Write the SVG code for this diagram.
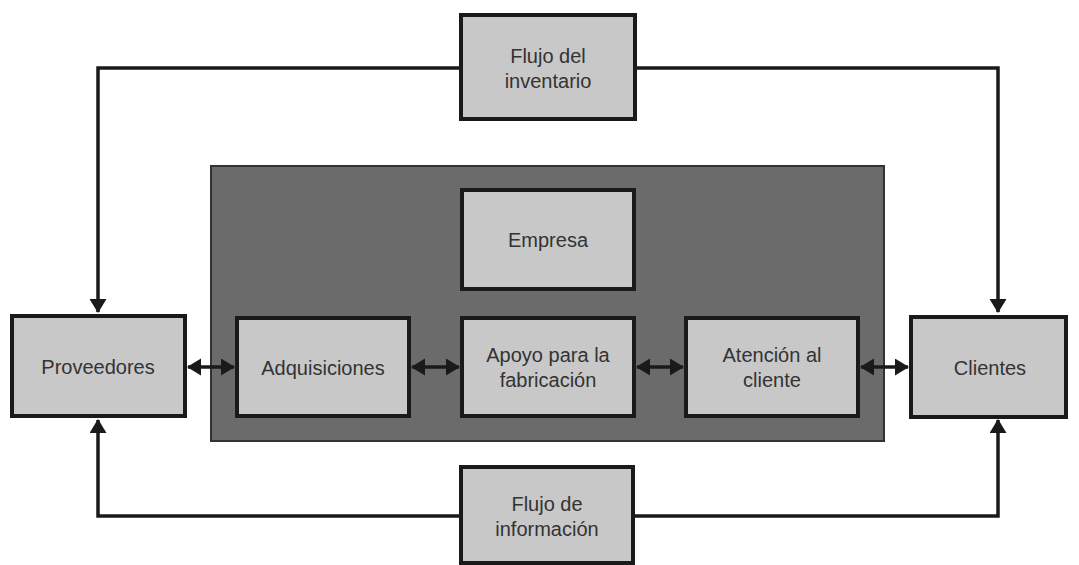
<svg xmlns="http://www.w3.org/2000/svg" width="1079" height="565" viewBox="0 0 1079 565">
<style>
.box{fill:#c8c8c8;stroke:#1a1a1a;stroke-width:4}
.lbl{font-family:"Liberation Sans",Arial,sans-serif;font-size:20px;fill:#333;text-anchor:middle}
.conn{fill:none;stroke:#1a1a1a;stroke-width:3.5}
</style>
<defs>
<marker id="ah" markerUnits="userSpaceOnUse" markerWidth="16" markerHeight="18" refX="13" refY="8.5" orient="auto-start-reverse">
<path d="M0,0 L14,8.5 L0,17 Z" fill="#1a1a1a"/>
</marker>
</defs>
<rect width="1079" height="565" fill="#fff"/>
<g id="empresa-frame">
<rect x="211" y="166" width="673" height="275" fill="#6b6b6b" stroke="#333" stroke-width="2"/>
</g>
<g id="connectors">
<path class="conn" d="M461,68 H98 V312" marker-end="url(#ah)"/>
<path class="conn" d="M635,68 H998 V312" marker-end="url(#ah)"/>
<path class="conn" d="M461,516 H98 V420" marker-end="url(#ah)"/>
<path class="conn" d="M633,516 H998 V420" marker-end="url(#ah)"/>
<path class="conn" d="M188,367 H234" marker-start="url(#ah)" marker-end="url(#ah)"/>
<path class="conn" d="M412,367 H459" marker-start="url(#ah)" marker-end="url(#ah)"/>
<path class="conn" d="M637,367 H683" marker-start="url(#ah)" marker-end="url(#ah)"/>
<path class="conn" d="M861,367 H908" marker-start="url(#ah)" marker-end="url(#ah)"/>
</g>
<g id="flujo-inventario">
<rect class="box" x="461" y="15" width="174" height="104"/>
<text class="lbl" x="548" y="63">Flujo del</text>
<text class="lbl" x="548" y="88">inventario</text>
</g>
<g id="empresa">
<rect class="box" x="462" y="190" width="172" height="99"/>
<text class="lbl" x="548" y="247">Empresa</text>
</g>
<g id="proveedores">
<rect class="box" x="12" y="316" width="173" height="100"/>
<text class="lbl" x="98" y="374">Proveedores</text>
</g>
<g id="adquisiciones">
<rect class="box" x="237" y="318" width="172" height="98"/>
<text class="lbl" x="323" y="375">Adquisiciones</text>
</g>
<g id="apoyo">
<rect class="box" x="462" y="318" width="172" height="98"/>
<text class="lbl" x="548" y="362">Apoyo para la</text>
<text class="lbl" x="548" y="387">fabricación</text>
</g>
<g id="atencion">
<rect class="box" x="686" y="318" width="172" height="98"/>
<text class="lbl" x="772" y="362">Atención al</text>
<text class="lbl" x="772" y="387">cliente</text>
</g>
<g id="clientes">
<rect class="box" x="911" y="317" width="155" height="100"/>
<text class="lbl" x="990" y="375">Clientes</text>
</g>
<g id="flujo-informacion">
<rect class="box" x="461" y="467" width="172" height="96"/>
<text class="lbl" x="547" y="511">Flujo de</text>
<text class="lbl" x="547" y="536">información</text>
</g>
</svg>
